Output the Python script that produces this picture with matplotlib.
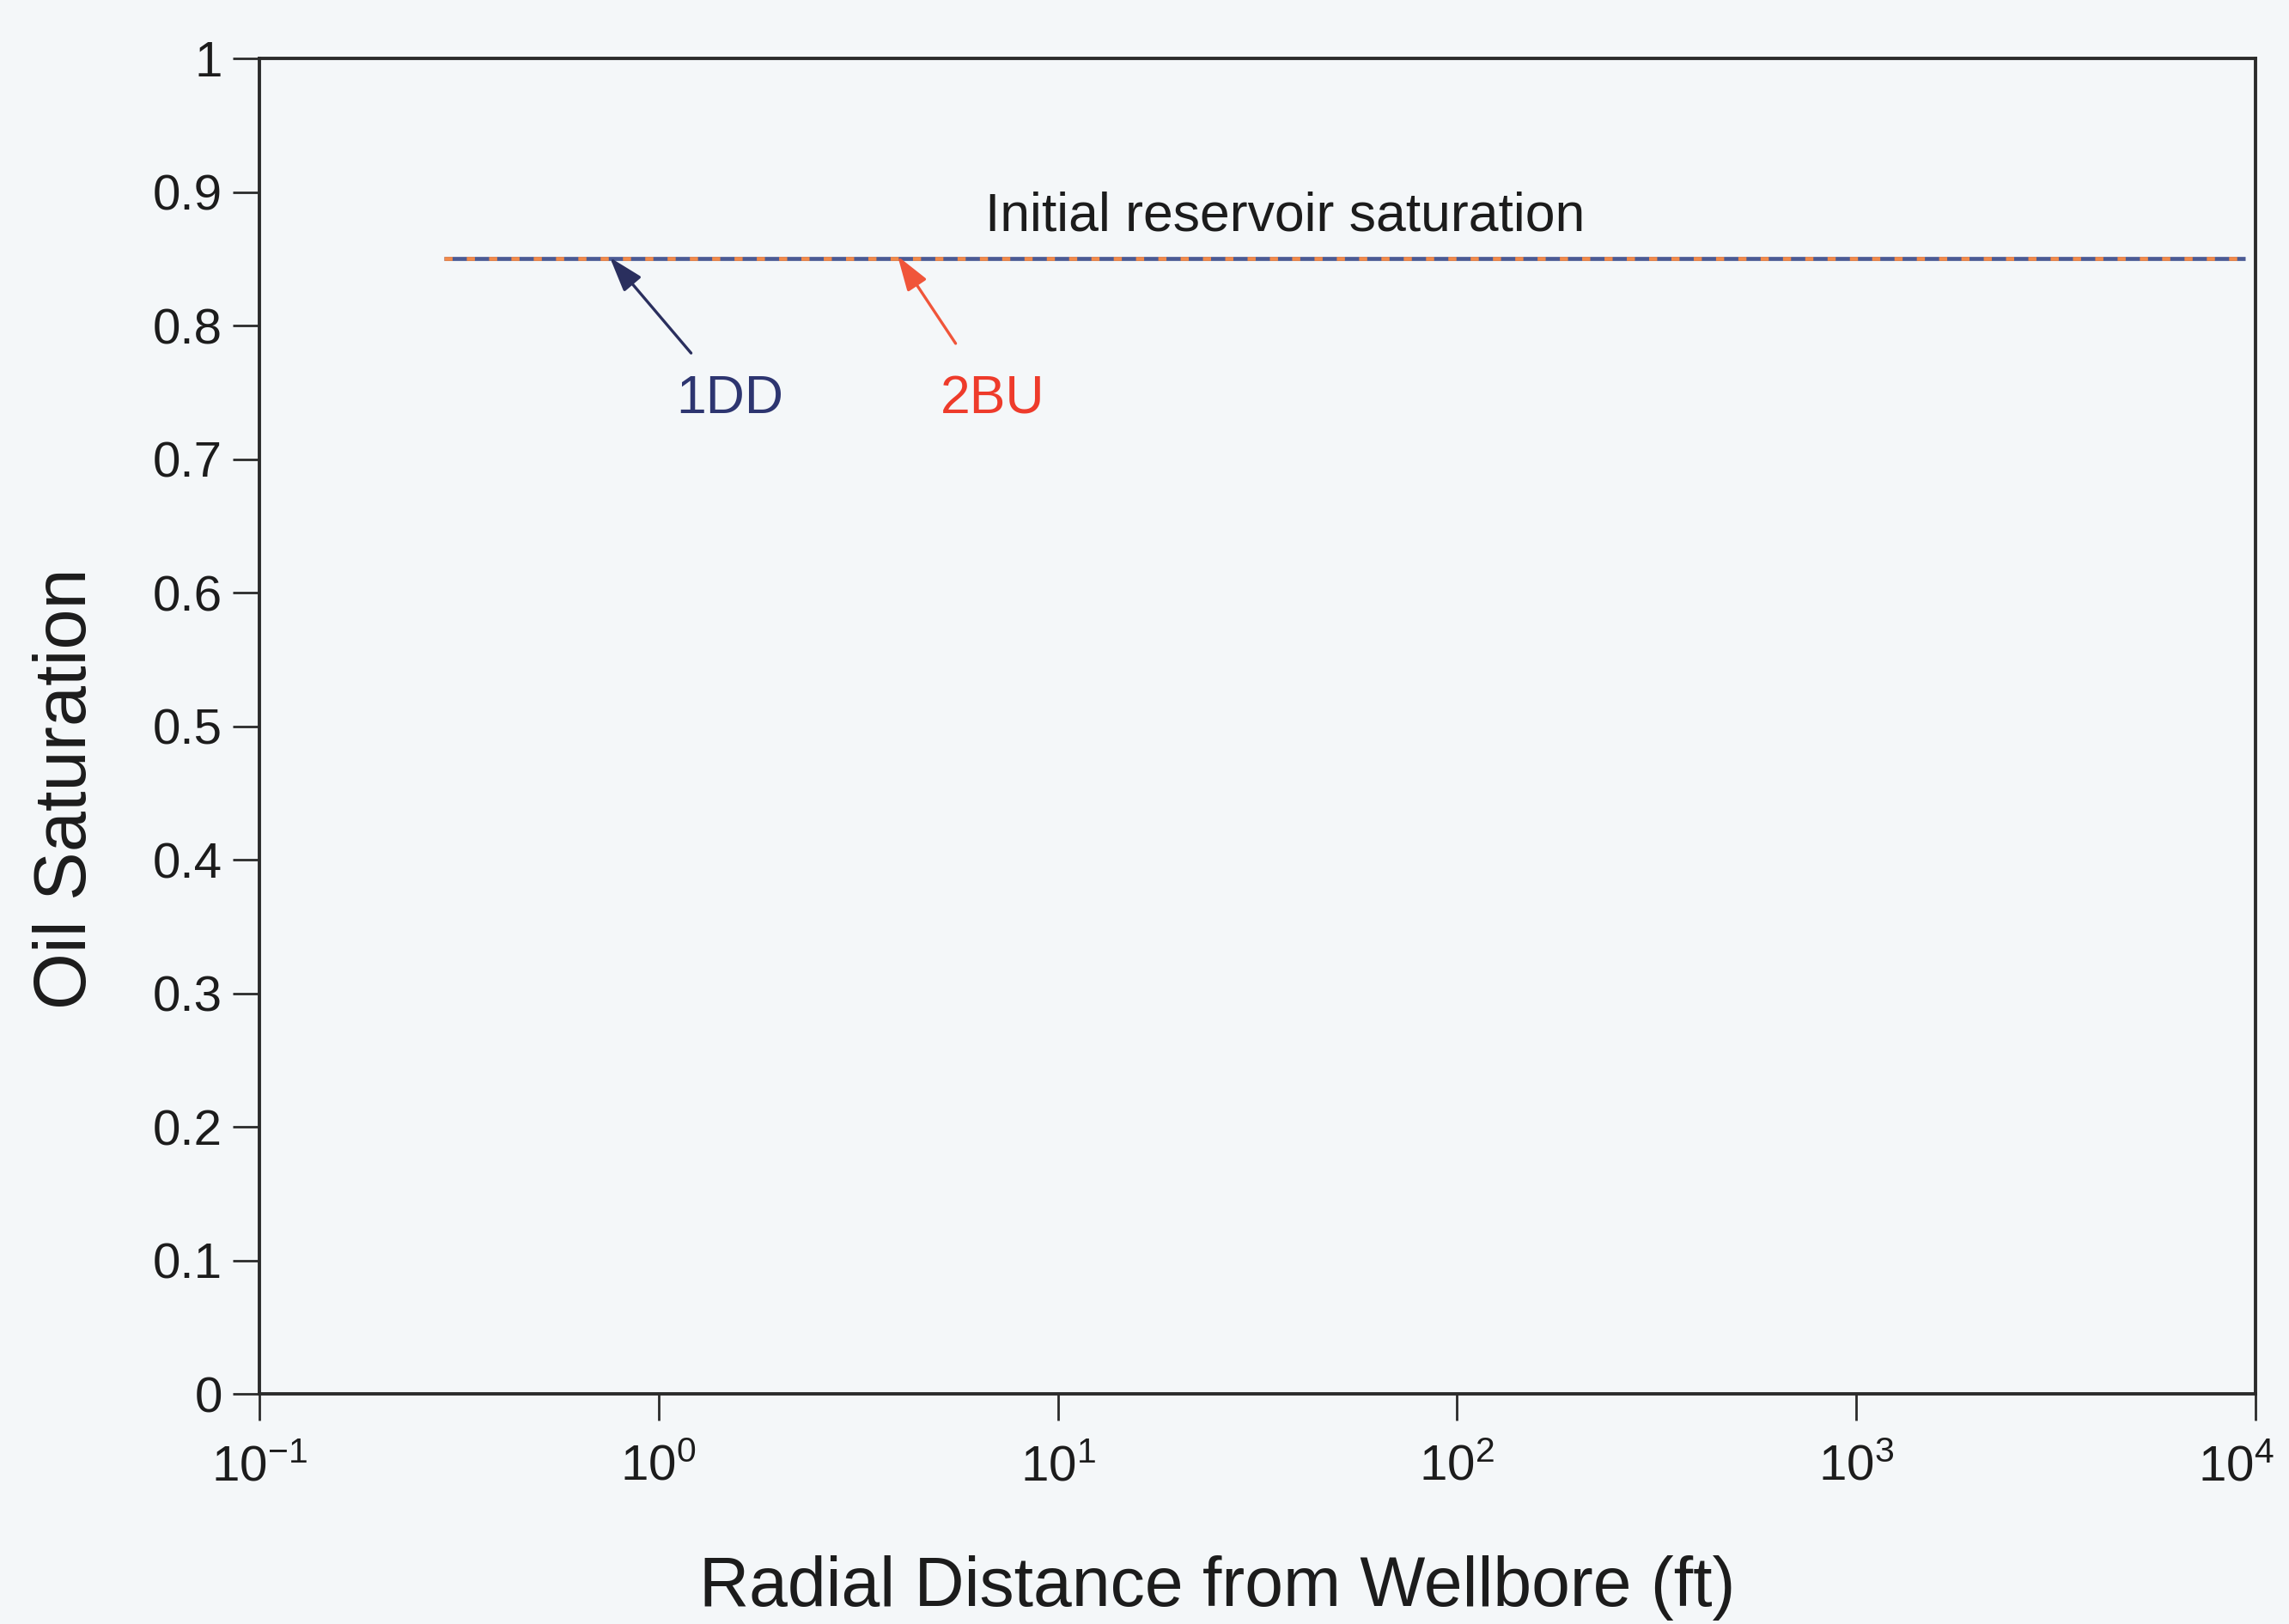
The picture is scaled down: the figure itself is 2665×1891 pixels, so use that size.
import matplotlib
matplotlib.use("Agg")
import matplotlib.pyplot as plt
import matplotlib.transforms as mtransforms
from matplotlib.ticker import FixedLocator, NullLocator

# Oil saturation profiles vs radial distance
dist_1dd = [0.29, 9400.0]
sat_1dd = [0.85, 0.85]
dist_2bu = [0.29, 9400.0]
sat_2bu = [0.85, 0.85]

y_ticks = [0, 0.1, 0.2, 0.3, 0.4, 0.5, 0.6, 0.7, 0.8, 0.9, 1]
y_tick_labels = ["0", "0.1", "0.2", "0.3", "0.4", "0.5", "0.6", "0.7", "0.8", "0.9", "1"]
x_ticks = [1e-1, 1e0, 1e1, 1e2, 1e3, 1e4]
x_tick_labels = [r"$10^{-1}$", r"$10^{0}$", r"$10^{1}$", r"$10^{2}$", r"$10^{3}$", r"$10^{4}$"]

plt.rcParams["font.family"] = ["Liberation Sans", "DejaVu Sans"]
plt.rcParams["mathtext.fontset"] = "custom"
plt.rcParams["mathtext.rm"] = "Liberation Sans"
plt.rcParams["mathtext.it"] = "Liberation Sans"
plt.rcParams["mathtext.default"] = "regular"

bg = "#f4f7f9"
ink = "#2b2b2b"
txt = "#1c1c1c"

fig = plt.figure(figsize=(26.65, 18.91), dpi=100, facecolor=bg)
ax = fig.add_axes([0.1133, 0.1417, 0.8721, 0.8223], facecolor=bg)

ax.plot(dist_1dd, sat_1dd, color="#4b5a94", lw=3.4, solid_capstyle="butt", zorder=3)
ax.plot(dist_2bu, sat_2bu, color="#f28a4a", lw=3.4, dashes=(2.0, 3.5), zorder=4)

ax.set_xscale("log")
ax.set_xlim(1e-1, 1e4)
ax.set_ylim(0, 1)

ax.xaxis.set_major_locator(FixedLocator(x_ticks))
ax.xaxis.set_minor_locator(NullLocator())
ax.set_xticklabels(x_tick_labels)
ax.set_yticks(y_ticks)
ax.set_yticklabels(y_tick_labels)

ax.tick_params(axis="both", which="major", direction="out", length=22, width=2,
               color=ink, labelcolor=txt, labelsize=42)
ax.tick_params(axis="x", pad=20)
ax.tick_params(axis="y", pad=9)

# keep the last decade label inside the figure edge
last = ax.get_xticklabels()[-1]
last.set_ha("right")
last.set_transform(last.get_transform() +
                   mtransforms.ScaledTranslation(16 / 72, 0, fig.dpi_scale_trans))

for side in ["left", "right", "top", "bottom"]:
    ax.spines[side].set_linewidth(2.8)
    ax.spines[side].set_color(ink)

ax.set_xlabel("Radial Distance from Wellbore (ft)", fontsize=58, color=txt)
ax.xaxis.set_label_coords(0.48, -0.121)
ax.set_ylabel("Oil Saturation", fontsize=61, color=txt, va="center")
ax.yaxis.set_label_coords(-0.0965, 0.4536)

ax.text(37, 0.882, "Initial reservoir saturation", fontsize=45, color=txt,
        ha="center", va="center")

ax.annotate("1DD", xy=(0.755, 0.851), xytext=(1.51, 0.745), fontsize=45,
            color="#2d3570", ha="center", va="center",
            arrowprops=dict(arrowstyle="-|>,head_length=0.55,head_width=0.18",
                            color="#2a2f5e", lw=2.4, shrinkA=20, shrinkB=0))
ax.annotate("2BU", xy=(3.97, 0.852), xytext=(6.86, 0.745), fontsize=45,
            color="#ee3b2b", ha="center", va="center",
            arrowprops=dict(arrowstyle="-|>,head_length=0.55,head_width=0.18",
                            color="#f0553a", lw=2.4, shrinkA=28, shrinkB=0))

fig.savefig("out.png", dpi=100, facecolor=bg)
